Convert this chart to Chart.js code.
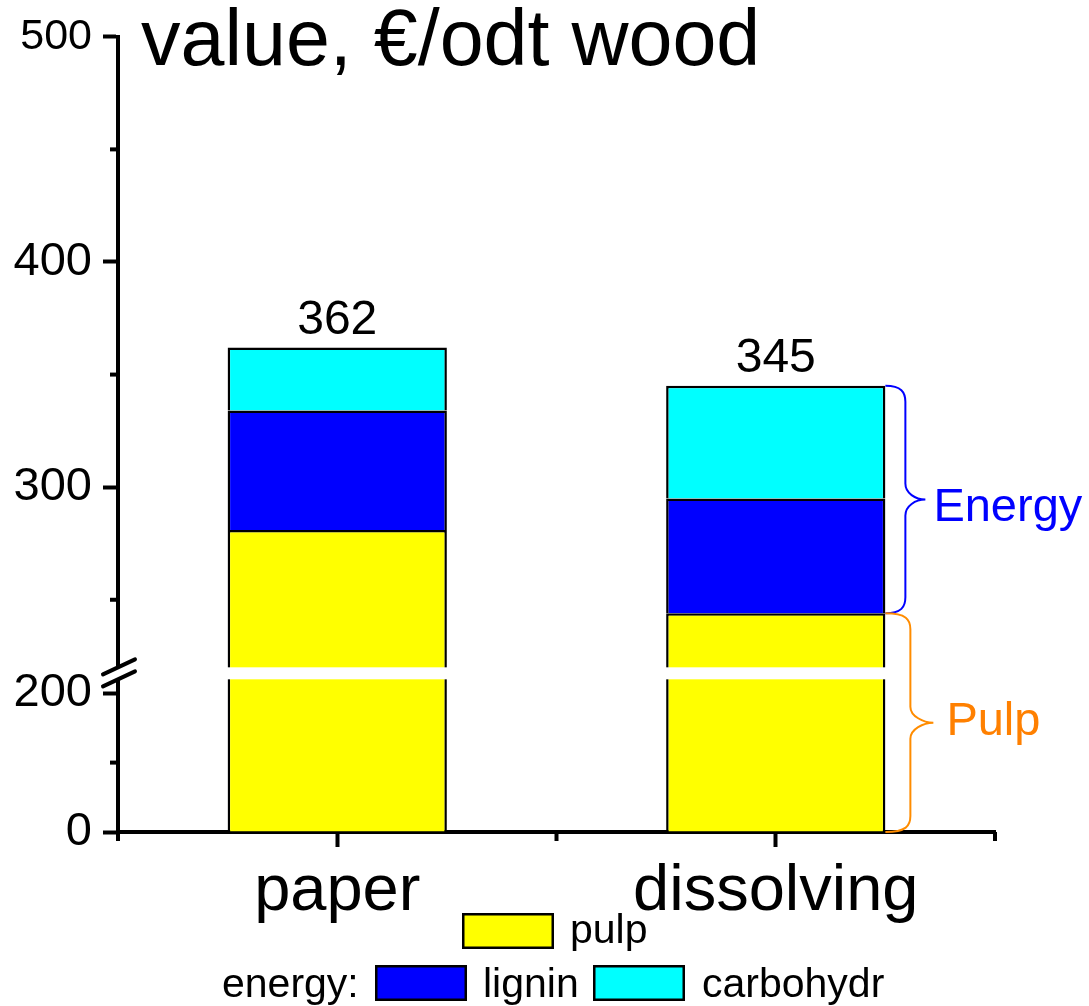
<!DOCTYPE html>
<html>
<head>
<meta charset="utf-8">
<title>value, €/odt wood</title>
<style>
  html, body { margin: 0; padding: 0; background: #ffffff; }
  canvas { display: block; }
</style>
<script src="https://cdn.jsdelivr.net/npm/chart.js@4/dist/chart.umd.min.js"></script>
</head>
<body>
<canvas id="chart" width="1089" height="1006"></canvas>
<script>
// Pulp grades and the value of one oven-dry tonne of wood split by product
const categories = ['paper', 'dissolving'];
const pulpValues = [281, 244];
const ligninValues = [53, 51];
const carbohydrateValues = [28, 50];
const seriesLabels = ['pulp', 'lignin', 'carbohydr'];

// Value axis: labelled ticks and small unlabelled ticks
const yMajorTicks = [0, 200, 300, 400, 500];
const yMinorTicks = [100, 250, 350, 450];

const totals = categories.map((_, i) => pulpValues[i] + ligninValues[i] + carbohydrateValues[i]);

const FONT = "'Liberation Sans', Arial, Helvetica, sans-serif";
Chart.defaults.font.family = FONT;
Chart.defaults.color = '#000000';

// Linear scale with a break: the low part below `breakAt` is compressed,
// and a blank band of `gapPx` separates it from the upper part.
class BrokenLinearScale extends Chart.LinearScale {
  static id = 'brokenLinear';
  static defaults = Chart.LinearScale.defaults;

  _parts() {
    const o = this.options;
    const h = this.bottom - this.top;
    const lowH = h * o.lowerShare;
    const gap = o.gapPx;
    return { brk: o.breakAt, gap, lowH, upH: h - lowH - gap };
  }
  getPixelForValue(value) {
    if (value === null || value === undefined || isNaN(value)) return NaN;
    const p = this._parts();
    if (value <= p.brk) {
      return this.bottom - (value - this.min) / (p.brk - this.min) * p.lowH;
    }
    return this.bottom - p.lowH - p.gap - (value - p.brk) / (this.max - p.brk) * p.upH;
  }
  getValueForPixel(pixel) {
    const p = this._parts();
    const lowTop = this.bottom - p.lowH;
    if (pixel >= lowTop) {
      return this.min + (this.bottom - pixel) / p.lowH * (p.brk - this.min);
    }
    return p.brk + (lowTop - p.gap - pixel) / p.upH * (this.max - p.brk);
  }
  breakBand() {
    const p = this._parts();
    const lowTop = this.bottom - p.lowH;
    return { top: lowTop - p.gap, bottom: lowTop };
  }
}
Chart.register(BrokenLinearScale);

const barStyle = {
  borderColor: '#000000',
  borderWidth: { top: 2.5, left: 2.5, right: 2.5, bottom: 0 },
  borderSkipped: false,
  barPercentage: 0.5,
  categoryPercentage: 1.0
};

function drawBrace(ctx, x0, yTop, yBot, xLine, xTip, r) {
  const yMid = (yTop + yBot) / 2;
  ctx.beginPath();
  ctx.moveTo(x0, yTop);
  ctx.bezierCurveTo(xLine - 4, yTop, xLine, yTop + r * 0.4, xLine, yTop + r);
  ctx.lineTo(xLine, yMid - r);
  ctx.bezierCurveTo(xLine, yMid - r * 0.4, xTip - 10, yMid, xTip, yMid);
  ctx.bezierCurveTo(xTip - 10, yMid, xLine, yMid + r * 0.4, xLine, yMid + r);
  ctx.lineTo(xLine, yBot - r);
  ctx.bezierCurveTo(xLine, yBot - r * 0.4, xLine - 4, yBot, x0, yBot);
  ctx.stroke();
  return yMid;
}

const decorations = {
  id: 'decorations',
  afterDatasetsDraw(chart) {
    const ctx = chart.ctx;
    const y = chart.scales.y;
    const band = y.breakBand();
    const meta = chart.getDatasetMeta(0);
    ctx.save();
    ctx.fillStyle = '#ffffff';
    meta.data.forEach(bar => {
      ctx.fillRect(bar.x - bar.width / 2 - 3, band.top, bar.width + 6, band.bottom - band.top);
    });
    ctx.restore();
  },
  afterDraw(chart) {
    const ctx = chart.ctx;
    const x = chart.scales.x;
    const y = chart.scales.y;
    const area = chart.chartArea;
    const axisX = area.left;
    const band = y.breakBand();

    ctx.save();
    ctx.strokeStyle = '#000000';
    ctx.lineWidth = 4;

    // small ticks on the value axis
    yMinorTicks.forEach(v => {
      const py = y.getPixelForValue(v);
      ctx.beginPath();
      ctx.moveTo(axisX - 8, py);
      ctx.lineTo(axisX, py);
      ctx.stroke();
    });
    // small ticks between categories
    for (let k = -0.5; k <= categories.length - 0.5; k += 1) {
      const px = x.getPixelForValue(k);
      ctx.beginPath();
      ctx.moveTo(px, area.bottom);
      ctx.lineTo(px, area.bottom + 9);
      ctx.stroke();
    }

    // axis break marks
    ctx.fillStyle = '#ffffff';
    ctx.fillRect(axisX - 4, band.top, 8, band.bottom - band.top);
    ctx.lineWidth = 4;
    ctx.lineCap = 'round';
    [band.top, band.bottom].forEach(yc => {
      const s = 15 / 32;
      ctx.beginPath();
      ctx.moveTo(axisX - 15, yc + 15 * s);
      ctx.lineTo(axisX + 17, yc - 17 * s);
      ctx.stroke();
    });
    ctx.lineCap = 'butt';

    // totals above the bars
    const meta = chart.getDatasetMeta(0);
    ctx.fillStyle = '#000000';
    ctx.font = '48px ' + FONT;
    ctx.textAlign = 'center';
    ctx.textBaseline = 'alphabetic';
    totals.forEach((t, i) => {
      ctx.fillText(String(t), meta.data[i].x, y.getPixelForValue(t) - 14);
    });

    // braces beside the dissolving bar
    const last = categories.length - 1;
    const bar = meta.data[last];
    const right = bar.x + bar.width / 2;
    const yPulp = y.getPixelForValue(pulpValues[last]);
    const yTotal = y.getPixelForValue(totals[last]);
    const yZero = y.getPixelForValue(0);
    ctx.lineWidth = 2;
    ctx.textAlign = 'left';
    ctx.font = '47px ' + FONT;

    ctx.strokeStyle = '#0000ff';
    ctx.fillStyle = '#0000ff';
    const eMid = drawBrace(ctx, right, yTotal, yPulp, right + 20, right + 40, 16);
    ctx.fillText('Energy', right + 48, eMid + 21);

    ctx.strokeStyle = '#ff8c00';
    ctx.fillStyle = '#ff8000';
    const pMid = drawBrace(ctx, right, yPulp, yZero, right + 25, right + 48, 16);
    ctx.fillText('Pulp', right + 61, pMid + 12);

    // heading
    ctx.fillStyle = '#000000';
    ctx.font = '79px ' + FONT;
    ctx.fillText('value, €/odt wood', 141, 65);

    // legend
    const ds = chart.data.datasets;
    const swatch = (sx, sy, color) => {
      ctx.fillStyle = color;
      ctx.fillRect(sx, sy, 92, 36);
      ctx.strokeStyle = '#000000';
      ctx.lineWidth = 2.5;
      ctx.strokeRect(sx + 1.25, sy + 1.25, 89.5, 33.5);
    };
    ctx.font = '41px ' + FONT;
    swatch(462, 913, ds[0].backgroundColor);
    ctx.fillStyle = '#000000';
    ctx.fillText(ds[0].label, 570, 943);

    ctx.fillText('energy:', 222, 997);
    swatch(375, 965, ds[1].backgroundColor);
    ctx.fillStyle = '#000000';
    ctx.fillText(ds[1].label, 483, 997);
    swatch(593, 965, ds[2].backgroundColor);
    ctx.fillStyle = '#000000';
    ctx.fillText(ds[2].label, 702, 997);

    ctx.restore();
  }
};

new Chart(document.getElementById('chart'), {
  type: 'bar',
  data: {
    labels: categories,
    datasets: [
      { label: seriesLabels[0], data: pulpValues, backgroundColor: '#ffff00', ...barStyle },
      { label: seriesLabels[1], data: ligninValues, backgroundColor: '#0000ff', ...barStyle },
      { label: seriesLabels[2], data: carbohydrateValues, backgroundColor: '#00ffff', ...barStyle }
    ]
  },
  options: {
    responsive: false,
    animation: false,
    events: [],
    layout: { padding: { top: 35, right: 94, left: 0, bottom: 0 } },
    plugins: {
      legend: { display: false },
      tooltip: { enabled: false },
      title: { display: false }
    },
    scales: {
      x: {
        stacked: true,
        offset: true,
        grid: { drawOnChartArea: false, offset: false, tickLength: 15, tickWidth: 4, tickColor: '#000000' },
        border: { display: true, width: 4, color: '#000000' },
        ticks: { font: { size: 65 }, color: '#000000', padding: 6, maxRotation: 0, autoSkip: false },
        afterFit: s => { s.height = 174; }
      },
      y: {
        type: 'brokenLinear',
        stacked: true,
        min: 0,
        max: 500,
        breakAt: 220,
        lowerShare: 0.192,
        gapPx: 12,
        grid: { drawOnChartArea: false, tickLength: 15, tickWidth: 4, tickColor: '#000000' },
        border: { display: true, width: 4, color: '#000000' },
        ticks: {
          autoSkip: false,
          padding: 11,
          color: '#000000',
          font: c => ({ size: c.tick && c.tick.value === 500 ? 43 : 47 }),
          callback: v => String(v)
        },
        afterBuildTicks: s => { s.ticks = yMajorTicks.map(v => ({ value: v })); },
        afterFit: s => { s.width = 118; }
      }
    }
  },
  plugins: [decorations]
});
</script>
</body>
</html>
